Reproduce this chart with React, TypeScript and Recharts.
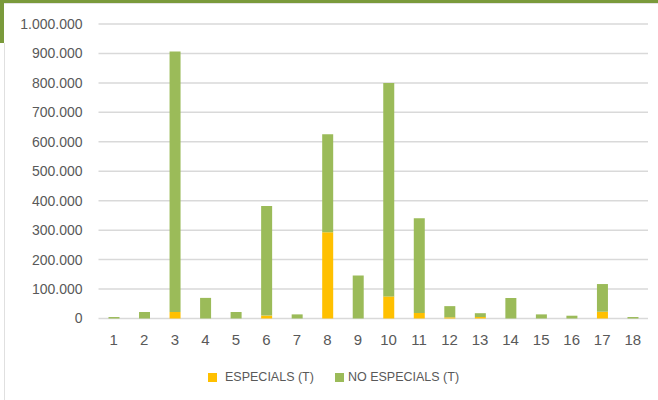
import React from 'react';
import { BarChart, Bar, XAxis, YAxis, CartesianGrid, Legend } from 'recharts';

const categories = ['1', '2', '3', '4', '5', '6', '7', '8', '9', '10', '11', '12', '13', '14', '15', '16', '17', '18'];
const especials = [0, 0, 22000, 0, 0, 10000, 0, 293000, 0, 75000, 19000, 4000, 5000, 0, 0, 0, 23000, 0];
const noEspecials = [5000, 22000, 885000, 70000, 22000, 372000, 14000, 333000, 146000, 725000, 321000, 38000, 13000, 70000, 14000, 9500, 94000, 5000];
const yTicks = [0, 100000, 200000, 300000, 400000, 500000, 600000, 700000, 800000, 900000, 1000000];
const seriesNames = ['ESPECIALS (T)', 'NO ESPECIALS (T)'];

const data = categories.map((c, i) => ({ cat: c, esp: especials[i], noesp: noEspecials[i] }));

const fmt = (v: number) => String(v).replace(/\B(?=(\d{3})+(?!\d))/g, '.');

const ORANGE = '#FFC000';
const GREEN = '#9BBB59';
const TEXT = '#595959';
const FONT = '"Liberation Sans", Arial, sans-serif';

const LegendContent = () => (
  <div style={{ display: 'flex', alignItems: 'center', fontFamily: FONT, fontSize: 12.5, color: TEXT }}>
    <span style={{ display: 'inline-block', width: 9, height: 9, background: ORANGE, marginRight: 8 }} />
    <span style={{ marginRight: 21 }}>{seriesNames[0]}</span>
    <span style={{ display: 'inline-block', width: 9, height: 9, background: GREEN, marginRight: 4 }} />
    <span>{seriesNames[1]}</span>
  </div>
);

export default function App() {
  return (
    <div style={{ position: 'absolute', left: 0, top: 0, width: 658, height: 400, background: '#fff', overflow: 'hidden' }}>
      <div style={{ position: 'absolute', left: 0, top: 0, width: 658, height: 3, background: '#7A9A3B' }} />
      <div style={{ position: 'absolute', left: 0, top: 0, width: 4, height: 43, background: '#7A9A3B' }} />
      <div style={{ position: 'absolute', left: 4, top: 3, width: 654, height: 1, background: '#E4E4E4' }} />
      <div style={{ position: 'absolute', left: 4, top: 43, width: 1, height: 357, background: '#E0E0E0' }} />
      <BarChart
        width={658}
        height={400}
        data={data}
        margin={{ top: 24, right: 10, left: 0, bottom: 51.5 }}
        barSize={11}
        barGap={0}
      >
        <CartesianGrid vertical={false} stroke="#D9D9D9" strokeWidth={1.5} />
        <XAxis
          dataKey="cat"
          axisLine={false}
          tickLine={false}
          tickSize={0}
          tickMargin={16}
          height={30}
          interval={0}
          tick={{ fill: TEXT, fontSize: 15, fontFamily: FONT }}
        />
        <YAxis
          width={98.5}
          domain={[0, 1000000]}
          ticks={yTicks}
          interval={0}
          axisLine={false}
          tickLine={false}
          tickSize={0}
          tickMargin={16}
          tickFormatter={fmt}
          tick={{ fill: TEXT, fontSize: 14, fontFamily: FONT }}
        />
        <Legend
          layout="horizontal"
          verticalAlign="middle"
          align="center"
          wrapperStyle={{ top: 370, left: 208, width: 'auto' }}
          content={<LegendContent />}
        />
        <Bar dataKey="esp" name={seriesNames[0]} stackId="a" fill={ORANGE} isAnimationActive={false} />
        <Bar dataKey="noesp" name={seriesNames[1]} stackId="a" fill={GREEN} isAnimationActive={false} />
      </BarChart>
    </div>
  );
}
